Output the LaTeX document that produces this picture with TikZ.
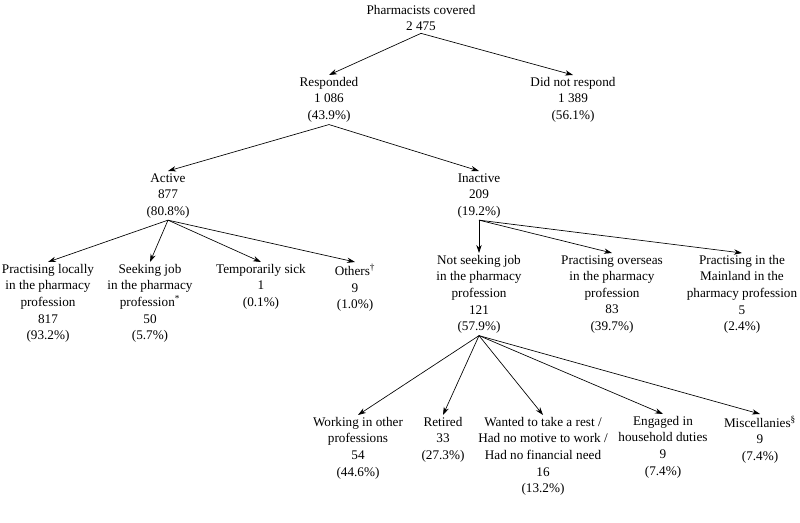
\documentclass[tikz,border=0pt]{standalone}
\usepackage{fontspec}
\setmainfont{Liberation Serif}
\usetikzlibrary{arrows.meta}
\begin{document}
\begin{tikzpicture}[x=0.75pt,y=-0.75pt,
  t/.style={anchor=north,align=center,inner sep=1.5pt,font=\fontsize{9.9pt}{12.4pt}\selectfont},
  a/.style={draw,-{Stealth[length=6pt,width=4pt]},line width=0.5pt}]
\useasboundingbox (0,0) rectangle (800,523);
\node[t] (root) at (421,3) {Pharmacists covered\\2 475};
\node[t] (resp) at (329,75) {Responded\\1 086\\(43.9\%)};
\node[t] (nresp) at (573,75) {Did not respond\\1 389\\(56.1\%)};
\node[t] (act) at (168,171) {Active\\877\\(80.8\%)};
\node[t] (inact) at (479,171) {Inactive\\209\\(19.2\%)};
\node[t] (loc) at (48,262) {Practising locally\\in the pharmacy\\profession\\817\\(93.2\%)};
\node[t] (seek) at (150,262) {Seeking job\\in the pharmacy\\profession\textsuperscript{*}\\50\\(5.7\%)};
\node[t] (sick) at (261,262) {Temporarily sick\\1\\(0.1\%)};
\node[t] (oth) at (355,262) {Others\textsuperscript{†}\\9\\(1.0\%)};
\node[t] (nseek) at (479,253) {Not seeking job\\in the pharmacy\\profession\\121\\(57.9\%)};
\node[t] (over) at (612,253) {Practising overseas\\in the pharmacy\\profession\\83\\(39.7\%)};
\node[t] (main) at (742,253) {Practising in the\\Mainland in the\\pharmacy profession\\5\\(2.4\%)};
\node[t] (work) at (358,415) {Working in other\\professions\\54\\(44.6\%)};
\node[t] (ret) at (443,415) {Retired\\33\\(27.3\%)};
\node[t] (want) at (543,415) {Wanted to take a rest /\\Had no motive to work /\\Had no financial need\\16\\(13.2\%)};
\node[t] (eng) at (663,414) {Engaged in\\household duties\\9\\(7.4\%)};
\node[t] (misc) at (760,414) {Miscellanies\textsuperscript{§}\\9\\(7.4\%)};
\draw[a] (root.south) -- (resp.north);
\draw[a] (root.south) -- (nresp.north);
\draw[a] (resp.south) -- (act.north);
\draw[a] (resp.south) -- (inact.north);
\draw[a] (act.south) -- (loc.north);
\draw[a] (act.south) -- (seek.north);
\draw[a] (act.south) -- (sick.north);
\draw[a] (act.south) -- (oth.north);
\draw[a] (inact.south) -- (nseek.north);
\draw[a] (inact.south) -- (over.north);
\draw[a] (inact.south) -- (main.north);
\draw[a] (nseek.south) -- (work.north);
\draw[a] (nseek.south) -- (ret.north);
\draw[a] (nseek.south) -- (want.north);
\draw[a] (nseek.south) -- (eng.north);
\draw[a] (nseek.south) -- (misc.north);
\end{tikzpicture}
\end{document}
